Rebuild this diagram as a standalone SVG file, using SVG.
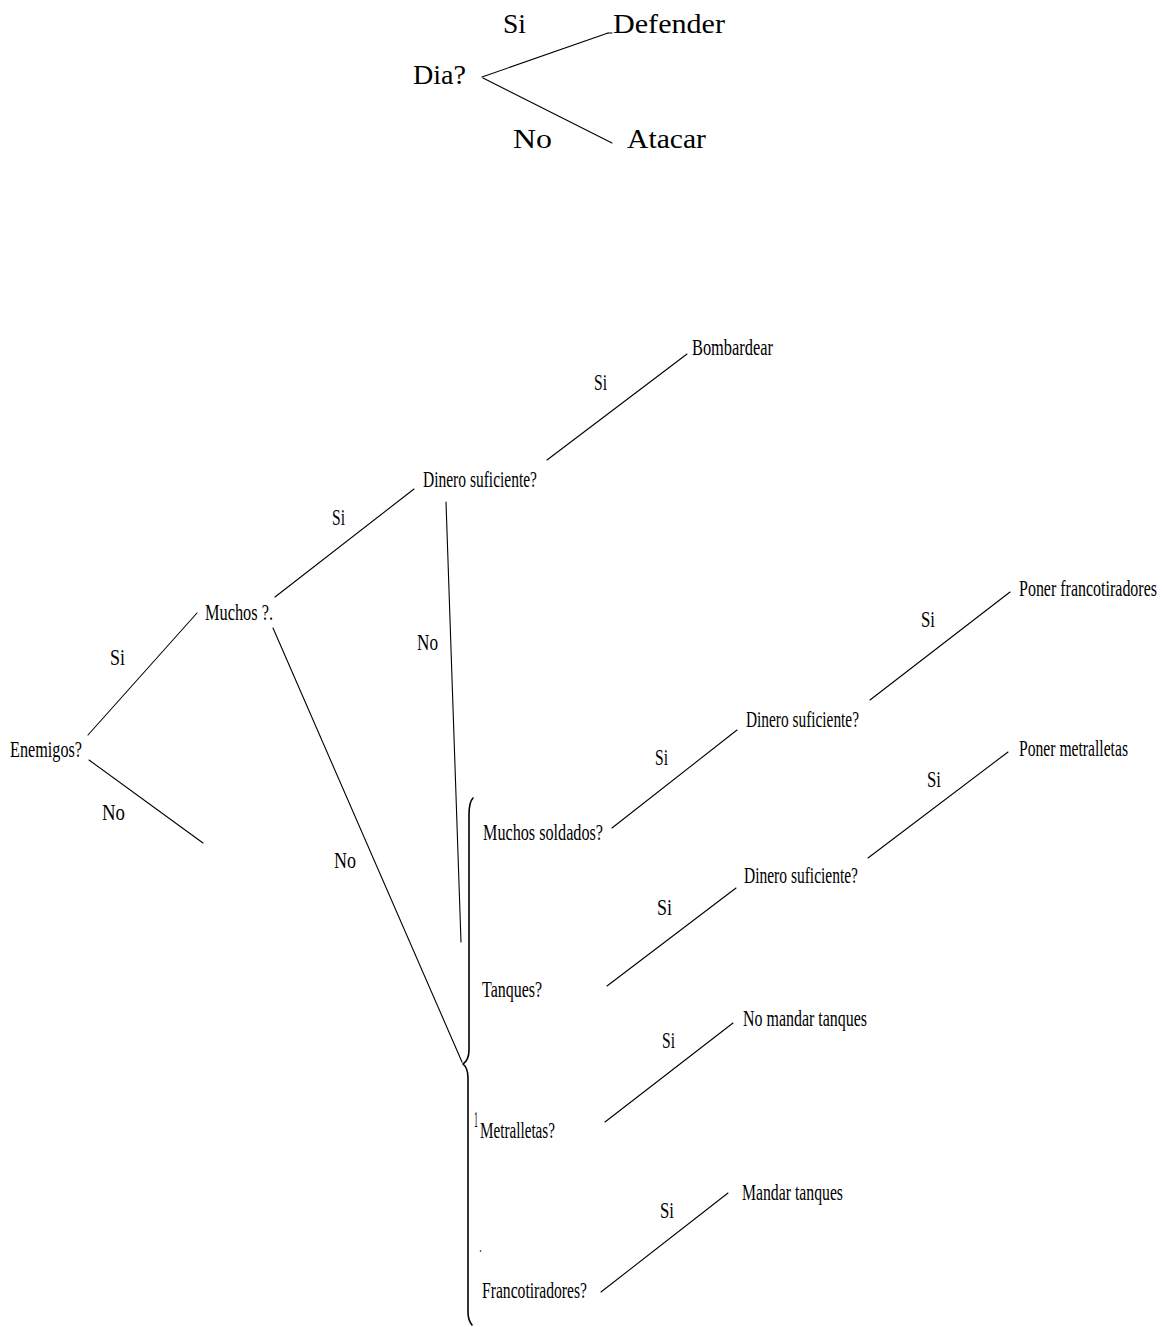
<svg xmlns="http://www.w3.org/2000/svg" width="1164" height="1327" viewBox="0 0 1164 1327">
  <style>
    .big { font-family: "Liberation Serif", "DejaVu Serif", serif; font-size: 27px; fill: #000; }
    .lbl { font-family: "Liberation Serif", "DejaVu Serif", serif; font-size: 23px; fill: #000; }
    .edge { stroke: #000; stroke-width: 1.1; fill: none; stroke-linecap: round; }
    .brace { stroke: #000; stroke-width: 1.6; fill: none; stroke-linecap: round; stroke-linejoin: round; }
  </style>
  <rect width="1164" height="1327" fill="#fff"/>

  <!-- connectors -->
  <g id="connectors">
    <!-- small tree: Dia? -->
    <line class="edge" x1="482" y1="77" x2="608" y2="33"/>
    <line class="edge" x1="608" y1="33" x2="612" y2="33"/>
    <line class="edge" x1="483" y1="78" x2="612" y2="143"/>
    <!-- large tree: Enemigos? -->
    <line class="edge" x1="88" y1="735" x2="197" y2="613"/>
    <line class="edge" x1="89" y1="760" x2="203" y2="843"/>
    <line class="edge" x1="275" y1="597" x2="414" y2="489"/>
    <line class="edge" x1="273" y1="628" x2="462" y2="1062"/>
    <line class="edge" x1="547" y1="460" x2="687" y2="354"/>
    <line class="edge" x1="446" y1="502" x2="461" y2="942"/>
    <line class="edge" x1="612" y1="828" x2="737" y2="730"/>
    <line class="edge" x1="870" y1="700" x2="1010" y2="592"/>
    <line class="edge" x1="607" y1="986" x2="736" y2="888"/>
    <line class="edge" x1="868" y1="858" x2="1008" y2="752"/>
    <line class="edge" x1="605" y1="1122" x2="733" y2="1023"/>
    <line class="edge" x1="601" y1="1292" x2="728" y2="1193"/>
    <!-- brace grouping the four questions -->
    <path class="brace" d="M473,798 Q469,802 469,815 L469,1050 Q469,1060 463,1064 Q468,1068 468,1078 L468,1312 Q468,1320 472,1325"/>
  </g>

  <!-- small tree nodes -->
  <g id="node-dia"><text class="big" x="413" y="84" textLength="53" lengthAdjust="spacingAndGlyphs">Dia?</text></g>
  <g id="node-defender"><text class="big" x="613" y="33" textLength="112" lengthAdjust="spacingAndGlyphs">Defender</text></g>
  <g id="node-atacar"><text class="big" x="627" y="148" textLength="79" lengthAdjust="spacingAndGlyphs">Atacar</text></g>
  <g id="label-dia-si"><text class="big" x="503" y="33" textLength="23" lengthAdjust="spacingAndGlyphs">Si</text></g>
  <g id="label-dia-no"><text class="big" x="513" y="148" textLength="39" lengthAdjust="spacingAndGlyphs">No</text></g>

  <!-- large tree nodes -->
  <g id="node-enemigos"><text class="lbl" x="10" y="757" textLength="72" lengthAdjust="spacingAndGlyphs">Enemigos?</text></g>
  <g id="node-muchos"><text class="lbl" x="205" y="620" textLength="68" lengthAdjust="spacingAndGlyphs">Muchos ?.</text></g>
  <g id="node-dinero-1"><text class="lbl" x="423" y="487" textLength="114" lengthAdjust="spacingAndGlyphs">Dinero suficiente?</text></g>
  <g id="node-bombardear"><text class="lbl" x="692" y="355" textLength="81" lengthAdjust="spacingAndGlyphs">Bombardear</text></g>
  <g id="node-muchos-soldados"><text class="lbl" x="483" y="840" textLength="120" lengthAdjust="spacingAndGlyphs">Muchos soldados?</text></g>
  <g id="node-dinero-2"><text class="lbl" x="746" y="727" textLength="113" lengthAdjust="spacingAndGlyphs">Dinero suficiente?</text></g>
  <g id="node-poner-franco"><text class="lbl" x="1019" y="596" textLength="138" lengthAdjust="spacingAndGlyphs">Poner francotiradores</text></g>
  <g id="node-tanques"><text class="lbl" x="482" y="997" textLength="60" lengthAdjust="spacingAndGlyphs">Tanques?</text></g>
  <g id="node-dinero-3"><text class="lbl" x="744" y="883" textLength="114" lengthAdjust="spacingAndGlyphs">Dinero suficiente?</text></g>
  <g id="node-poner-metralletas"><text class="lbl" x="1019" y="756" textLength="109" lengthAdjust="spacingAndGlyphs">Poner metralletas</text></g>
  <g id="node-metralletas">
    <text class="lbl" x="474" y="1127" font-size="11" textLength="4" lengthAdjust="spacingAndGlyphs">1</text>
    <text class="lbl" x="480" y="1138" textLength="75" lengthAdjust="spacingAndGlyphs">Metralletas?</text>
  </g>
  <g id="node-no-mandar"><text class="lbl" x="743" y="1026" textLength="124" lengthAdjust="spacingAndGlyphs">No mandar tanques</text></g>
  <g id="node-francotiradores">
    <circle cx="480.5" cy="1251" r="0.8" fill="#000"/>
    <text class="lbl" x="482" y="1298" textLength="105" lengthAdjust="spacingAndGlyphs">Francotiradores?</text>
  </g>
  <g id="node-mandar"><text class="lbl" x="742" y="1200" textLength="101" lengthAdjust="spacingAndGlyphs">Mandar tanques</text></g>

  <!-- branch labels -->
  <g id="branch-labels">
    <text class="lbl" x="110" y="665" textLength="15" lengthAdjust="spacingAndGlyphs">Si</text>
    <text class="lbl" x="102" y="820" textLength="23" lengthAdjust="spacingAndGlyphs">No</text>
    <text class="lbl" x="332" y="525" textLength="13" lengthAdjust="spacingAndGlyphs">Si</text>
    <text class="lbl" x="334" y="868" textLength="22" lengthAdjust="spacingAndGlyphs">No</text>
    <text class="lbl" x="594" y="390" textLength="13" lengthAdjust="spacingAndGlyphs">Si</text>
    <text class="lbl" x="417" y="650" textLength="21" lengthAdjust="spacingAndGlyphs">No</text>
    <text class="lbl" x="655" y="765" textLength="13" lengthAdjust="spacingAndGlyphs">Si</text>
    <text class="lbl" x="921" y="627" textLength="14" lengthAdjust="spacingAndGlyphs">Si</text>
    <text class="lbl" x="657" y="915" textLength="15" lengthAdjust="spacingAndGlyphs">Si</text>
    <text class="lbl" x="927" y="787" textLength="14" lengthAdjust="spacingAndGlyphs">Si</text>
    <text class="lbl" x="662" y="1048" textLength="13" lengthAdjust="spacingAndGlyphs">Si</text>
    <text class="lbl" x="660" y="1218" textLength="14" lengthAdjust="spacingAndGlyphs">Si</text>
  </g>
</svg>
